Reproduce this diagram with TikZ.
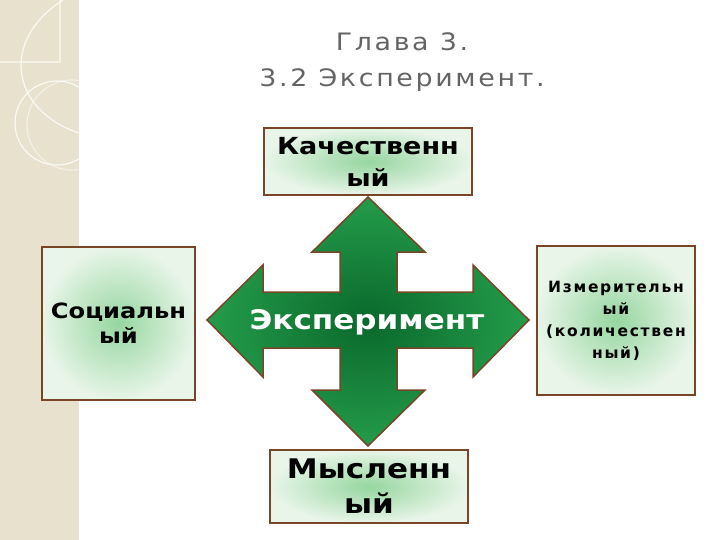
\documentclass[tikz,border=0pt]{standalone}
\usepackage{fontspec}
\setmainfont{DejaVu Sans}
\newfontfamily\spacedfont[LetterSpace=11]{DejaVu Sans}
\newfontfamily\titlefont[LetterSpace=11,FakeStretch=1.12]{DejaVu Sans}
\newfontfamily\widefont[FakeStretch=1.15]{DejaVu Sans}
\usetikzlibrary{positioning}
\definecolor{edgebrown}{RGB}{120,70,38}
\definecolor{boxin}{RGB}{150,214,160}
\definecolor{boxout}{RGB}{232,245,232}
\definecolor{crossin}{RGB}{10,104,44}
\definecolor{crossout}{RGB}{36,156,74}
\definecolor{strip}{RGB}{232,225,206}
\definecolor{titlegray}{RGB}{100,100,100}

\begin{document}
\begin{tikzpicture}[x=1pt,y=-1pt,
	box/.style={draw=edgebrown, line width=1.5pt, inner color=boxin, outer color=boxout, align=center, inner sep=0pt},
	swirl/.style={draw=white, line width=1.2pt, opacity=0.8}]
	\useasboundingbox (0,0) rectangle (720,540);
	% left strip
	\fill[strip] (0,0) rectangle (79,540);
	\begin{scope}
		\clip (0,0) rectangle (79,540);
		\draw[swirl] (57,123) circle (42);
		\draw[swirl, opacity=0.5] (72,125) circle (45);
		\draw[swirl] (63,0) .. controls (0,40) and (10,110) .. (79,133);
		\draw[swirl, opacity=0.5] (0,62) -- (60,62) (60,0) -- (60,62);
	\end{scope}
	% title
	\node[titlegray, align=center, font=\titlefont\fontsize{24}{36}\selectfont] (title) at (402,62) {Глава 3.\\3.2 Эксперимент.};
	% cross
	\shade[inner color=crossin, outer color=crossout, draw=edgebrown, line width=1.5pt]
		(368,197) -- (425,252) -- (397,252) -- (397,292) -- (473,292) -- (473,265) -- (529,320)
		-- (473,377) -- (473,348) -- (397,348) -- (397,390) -- (425,390) -- (368,446)
		-- (312,390) -- (340,390) -- (340,348) -- (263,348) -- (263,377) -- (207,320)
		-- (263,265) -- (263,292) -- (340,292) -- (340,252) -- (312,252) -- cycle;
	\node[white, font=\widefont\bfseries\fontsize{27}{30}\selectfont] (exp) at (367,322) {Эксперимент};
	% boxes
	\node[box, minimum width=208, minimum height=67, font=\widefont\bfseries\fontsize{23.5}{32}\selectfont] (qual) at (368,161.5) {Качественн\\ый};
	\node[box, minimum width=153, minimum height=153, font=\widefont\bfseries\fontsize{21}{25}\selectfont] (soc) at (118.5,323.5) {Социальн\\ый};
	\node[box, minimum width=158, minimum height=149, font=\spacedfont\bfseries\fontsize{15.5}{22}\selectfont] (meas) at (616,320.5) {Измерительн\\ый\\(количествен\\ный)};
	\node[box, minimum width=198, minimum height=73, font=\widefont\bfseries\fontsize{27}{35}\selectfont] (ment) at (369,486.5) {Мысленн\\ый};
\end{tikzpicture}
\end{document}
